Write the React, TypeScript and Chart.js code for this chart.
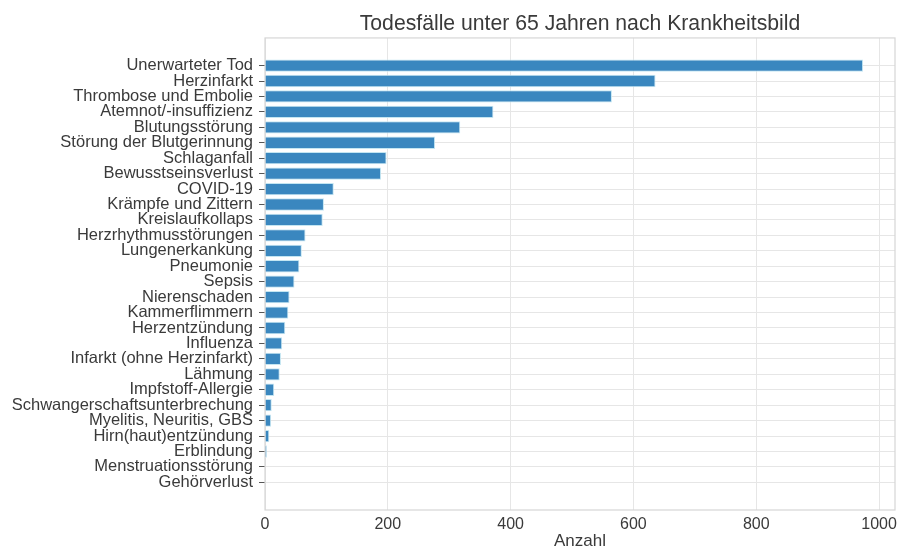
import React, { useEffect, useRef } from "react";
import { Chart, registerables } from "chart.js";

Chart.register(...registerables);

const titleText = "Todesfälle unter 65 Jahren nach Krankheitsbild";
const xAxisTitle = "Anzahl";

const categories: string[] = [
  "Unerwarteter Tod",
  "Herzinfarkt",
  "Thrombose und Embolie",
  "Atemnot/-insuffizienz",
  "Blutungsstörung",
  "Störung der Blutgerinnung",
  "Schlaganfall",
  "Bewusstseinsverlust",
  "COVID-19",
  "Krämpfe und Zittern",
  "Kreislaufkollaps",
  "Herzrhythmusstörungen",
  "Lungenerkankung",
  "Pneumonie",
  "Sepsis",
  "Nierenschaden",
  "Kammerflimmern",
  "Herzentzündung",
  "Influenza",
  "Infarkt (ohne Herzinfarkt)",
  "Lähmung",
  "Impfstoff-Allergie",
  "Schwangerschaftsunterbrechung",
  "Myelitis, Neuritis, GBS",
  "Hirn(haut)entzündung",
  "Erblindung",
  "Menstruationsstörung",
  "Gehörverlust",
];

const values: number[] = [
  974, 636, 565, 372, 318, 277, 198, 189, 112, 96, 94, 66, 60, 56, 48, 40, 38,
  33, 28, 26, 24, 15, 11, 10, 7, 3, 0, 0,
];

const xTicks: number[] = [0, 200, 400, 600, 800, 1000];

const FONT = "'Liberation Sans', Arial, Helvetica, sans-serif";
const TEXT = "#3a3a3a";

const boxPlugin = {
  id: "plotBox",
  beforeDatasetsDraw(chart: any) {
    const { ctx, chartArea } = chart;
    ctx.save();
    ctx.strokeStyle = "#d6d6d6";
    ctx.lineWidth = 1.2;
    ctx.strokeRect(chartArea.left, chartArea.top, chartArea.right - chartArea.left, chartArea.bottom - chartArea.top);
    ctx.restore();
  },
};

export default function App() {
  const ref = useRef<HTMLCanvasElement | null>(null);

  useEffect(() => {
    document.body.style.margin = "0";
    if (!ref.current) return;
    const n = categories.length;
    const chart = new Chart(ref.current, {
      type: "bar",
      data: {
        datasets: [
          {
            data: values.map((v, i) => ({ x: v, y: i })),
            backgroundColor: "#3a87bf",
            borderColor: "#c4e6f2",
            borderWidth: 1,
            barPercentage: 0.8,
            categoryPercentage: 1.0,
          } as any,
        ],
      },
      options: {
        indexAxis: "y",
        animation: false,
        responsive: true,
        maintainAspectRatio: false,
        layout: { padding: { left: 0, right: 4, top: 0, bottom: 0 } },
        plugins: {
          legend: { display: false },
          tooltip: { enabled: false },
          title: {
            display: true,
            text: titleText,
            fullSize: false,
            color: TEXT,
            font: { family: FONT, size: 21.2, weight: "normal" as any, lineHeight: 1.2 },
            padding: { top: 11, bottom: 1.5 },
          },
        },
        scales: {
          x: {
            type: "linear",
            min: 0,
            max: 1026,
            afterBuildTicks: (scale: any) => {
              scale.ticks = xTicks.map((v) => ({ value: v }));
            },
            afterFit: (scale: any) => {
              scale.height = 42;
              scale.paddingLeft = 0;
              scale.paddingRight = 0;
            },
            grid: { color: "#e6e6e6", lineWidth: 1, drawTicks: false },
            border: { display: false },
            ticks: {
              color: TEXT,
              padding: 5,
              font: { family: FONT, size: 16 },
              maxRotation: 0,
              callback: (v: any) => String(v),
            },
            title: {
              display: true,
              text: xAxisTitle,
              color: TEXT,
              font: { family: FONT, size: 17 },
              padding: { top: 0, bottom: 0 },
            },
          },
          y: {
            type: "linear",
            reverse: true,
            offset: false,
            min: -1.79,
            max: n - 1 + 1.79,
            afterBuildTicks: (scale: any) => {
              scale.ticks = categories.map((_, i) => ({ value: i }));
            },
            afterFit: (scale: any) => {
              scale.width = 265;
              scale.paddingTop = 0;
              scale.paddingBottom = 0;
            },
            grid: {
              offset: false,
              color: "#e6e6e6",
              lineWidth: 1,
              drawTicks: true,
              tickLength: 6,
              tickColor: "#555555",
              tickWidth: 1,
            },
            border: { display: false },
            ticks: {
              autoSkip: false,
              color: TEXT,
              padding: 6,
              font: { family: FONT, size: 16.5, lineHeight: 1 },
              callback: (v: any) => categories[v as number] ?? "",
            },
          },
        },
      },
      plugins: [boxPlugin],
    });
    return () => chart.destroy();
  }, []);

  return (
    <div style={{ width: 899, height: 552, position: "relative", background: "#fff" }}>
      <canvas ref={ref} />
    </div>
  );
}
